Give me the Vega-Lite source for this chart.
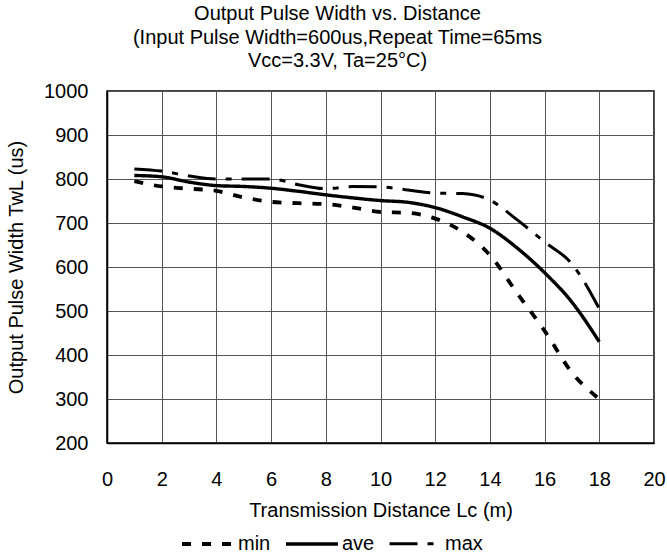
{
  "$schema": "https://vega.github.io/schema/vega-lite/v6.json",
  "autosize": "none",
  "width": 547,
  "height": 352,
  "padding": {"left": 107, "top": 91, "right": 13, "bottom": 110},
  "background": "white",
  "title": {
    "text": ["Output Pulse Width vs. Distance", "(Input Pulse Width=600us,Repeat Time=65ms", "Vcc=3.3V, Ta=25°C)"],
    "font": "Liberation Sans",
    "fontSize": 20,
    "fontWeight": "normal",
    "lineHeight": 23.5,
    "anchor": "middle",
    "dx": -43,
    "offset": 10,
    "color": "black"
  },
  "config": {
    "view": {"stroke": "black", "strokeWidth": 1.5},
    "axis": {
      "labelFont": "Liberation Sans",
      "titleFont": "Liberation Sans",
      "labelFontSize": 20,
      "titleFontSize": 20,
      "titleFontWeight": "normal",
      "labelColor": "black",
      "titleColor": "black",
      "gridColor": "#555555",
      "gridWidth": 1,
      "gridOpacity": 1,
      "domainColor": "black",
      "domainWidth": 1.5,
      "ticks": false
    }
  },
  "data": {
    "values": [
      {"x": 1, "y": 795, "series": "min"},
      {"x": 2, "y": 783, "series": "min"},
      {"x": 3, "y": 778, "series": "min"},
      {"x": 4, "y": 773, "series": "min"},
      {"x": 5, "y": 758, "series": "min"},
      {"x": 6, "y": 748, "series": "min"},
      {"x": 7, "y": 745, "series": "min"},
      {"x": 8, "y": 743, "series": "min"},
      {"x": 9, "y": 735, "series": "min"},
      {"x": 10, "y": 725, "series": "min"},
      {"x": 11, "y": 723, "series": "min"},
      {"x": 12, "y": 710, "series": "min"},
      {"x": 13, "y": 680, "series": "min"},
      {"x": 14, "y": 627, "series": "min"},
      {"x": 15, "y": 540, "series": "min"},
      {"x": 16, "y": 455, "series": "min"},
      {"x": 17, "y": 360, "series": "min"},
      {"x": 18, "y": 300, "series": "min"},
      {"x": 1, "y": 808, "series": "ave"},
      {"x": 2, "y": 805, "series": "ave"},
      {"x": 3, "y": 793, "series": "ave"},
      {"x": 4, "y": 785, "series": "ave"},
      {"x": 5, "y": 783, "series": "ave"},
      {"x": 6, "y": 779, "series": "ave"},
      {"x": 7, "y": 772, "series": "ave"},
      {"x": 8, "y": 764, "series": "ave"},
      {"x": 9, "y": 757, "series": "ave"},
      {"x": 10, "y": 751, "series": "ave"},
      {"x": 11, "y": 747, "series": "ave"},
      {"x": 12, "y": 735, "series": "ave"},
      {"x": 13, "y": 714, "series": "ave"},
      {"x": 14, "y": 688, "series": "ave"},
      {"x": 15, "y": 643, "series": "ave"},
      {"x": 16, "y": 587, "series": "ave"},
      {"x": 17, "y": 520, "series": "ave"},
      {"x": 18, "y": 430, "series": "ave"},
      {"x": 1, "y": 823, "series": "max"},
      {"x": 2, "y": 818, "series": "max"},
      {"x": 3, "y": 807, "series": "max"},
      {"x": 4, "y": 800, "series": "max"},
      {"x": 5, "y": 800, "series": "max"},
      {"x": 6, "y": 800, "series": "max"},
      {"x": 7, "y": 787, "series": "max"},
      {"x": 8, "y": 778, "series": "max"},
      {"x": 9, "y": 783, "series": "max"},
      {"x": 10, "y": 782, "series": "max"},
      {"x": 11, "y": 775, "series": "max"},
      {"x": 12, "y": 768, "series": "max"},
      {"x": 13, "y": 767, "series": "max"},
      {"x": 14, "y": 752, "series": "max"},
      {"x": 15, "y": 707, "series": "max"},
      {"x": 16, "y": 657, "series": "max"},
      {"x": 17, "y": 607, "series": "max"},
      {"x": 18, "y": 505, "series": "max"}
    ]
  },
  "mark": {"type": "line", "interpolate": "monotone", "color": "black", "strokeCap": "butt"},
  "encoding": {
    "x": {
      "field": "x", "type": "quantitative",
      "scale": {"domain": [0, 20], "nice": false, "zero": false},
      "axis": {"values": [0, 2, 4, 6, 8, 10, 12, 14, 16, 18, 20], "title": "Transmission Distance Lc (m)", "labelPadding": 26, "titlePadding": 11, "labelFlush": false}
    },
    "y": {
      "field": "y", "type": "quantitative",
      "scale": {"domain": [200, 1000], "nice": false, "zero": false},
      "axis": {"values": [200, 300, 400, 500, 600, 700, 800, 900, 1000], "format": "d", "title": "Output Pulse Width TwL (us)", "labelPadding": 19, "titlePadding": 17, "labelFlush": false}
    },
    "strokeDash": {
      "field": "series", "type": "nominal",
      "scale": {"domain": ["min", "ave", "max"], "range": [[9, 11], [1, 0], [28, 10, 6, 10]]},
      "legend": {
        "title": null,
        "orient": "none",
        "direction": "horizontal",
        "legendX": 73,
        "legendY": 425,
        "symbolType": "stroke",
        "symbolSize": 2700,
        "symbolStrokeWidth": 4,
        "symbolStrokeColor": "black",
        "labelFont": "Liberation Sans",
        "labelFontSize": 20,
        "labelColor": "black",
        "labelOffset": 2,
        "columnPadding": 8
      }
    },
    "strokeWidth": {
      "field": "series", "type": "nominal",
      "scale": {"domain": ["min", "ave", "max"], "range": [3.8, 3, 3.8]},
      "legend": null
    }
  }
}
